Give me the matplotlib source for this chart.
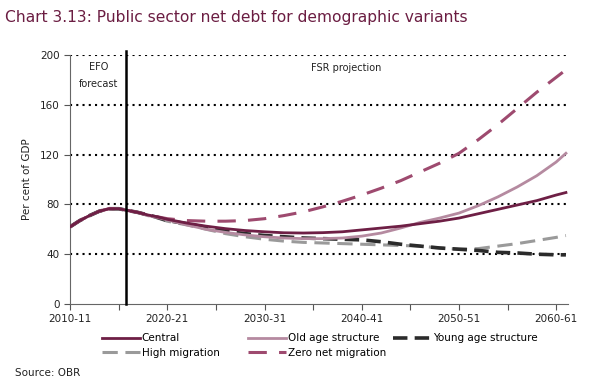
import numpy as np
import matplotlib.pyplot as plt

# years since 2010-11
years = [0, 1, 2, 3, 4, 5, 6, 7, 8, 9, 10, 12, 14, 16, 18, 20, 22, 24, 26, 28,
         30, 32, 34, 36, 38, 40, 42, 44, 46, 48, 50, 51]

central = [62, 67, 71, 74.5, 76.5, 76.5, 75, 73.5, 71.5, 70, 68, 65, 62.5, 60.5, 59, 58,
           57.2, 57, 57.3, 58, 59.5, 61, 62.5, 64.5, 66.5, 69, 72.5, 76, 79.5, 83, 87.5, 89.5]
old_age = [62, 67, 71, 74.5, 76.5, 76.5, 75, 73.5, 71, 69.5, 67.5, 63.5, 60, 57.5, 55.5, 54,
           53, 52.5, 52.5, 53, 54.5, 57, 61, 65.5, 69, 73, 79, 86, 94, 103, 114, 121]
young_age = [62, 67, 71, 74.5, 76.5, 76.5, 75, 73.5, 71.5, 69.5, 67, 64.5, 61.5, 58.5, 56.5, 55,
             54, 53, 52.5, 52, 51.5, 50, 48, 46.5, 45, 44, 43, 41.5, 41, 40, 39.5, 39.5]
high_mig = [62, 67, 71, 74.5, 76.5, 76.5, 75, 73.5, 71, 69, 66.5, 63.5, 60, 56.5, 54, 52,
            50.5, 49.5, 49, 48.5, 48, 47.5, 47, 46.5, 45, 44, 44.5, 46.5, 48.5, 51, 53.5, 55]
zero_mig = [62, 67, 71, 74.5, 76.5, 76.5, 75, 73.5, 71.5, 70, 68.5, 67, 66.5, 66.5, 67, 68.5,
            71, 74, 78, 82.5, 87.5, 93, 99, 106, 113, 121, 132, 144, 157, 170, 182, 188]

tick_labels = ['2010-11', '2020-21', '2030-31', '2040-41', '2050-51', '2060-61']

maroon = '#6b1d42'

fig = plt.figure(figsize=(5.94, 3.81), dpi=100)
ax = fig.add_axes([0.118, 0.202, 0.838, 0.654])

for y in range(40, 201, 40):
    ax.axhline(y, color='black', lw=1.5, ls=(0, (1, 2)), zorder=1)

l_central, = ax.plot(years, central, color='#6e1f45', lw=2, zorder=5)
l_high, = ax.plot(years, high_mig, color='#9a9a9a', lw=2.2, ls=(0, (5, 2.5)), zorder=3)
l_old, = ax.plot(years, old_age, color='#b58aa0', lw=2, zorder=4)
l_zero, = ax.plot(years, zero_mig, color='#9e4a6f', lw=2.2, ls=(0, (6, 4)), zorder=4)
l_young, = ax.plot(years, young_age, color='#2b2b2b', lw=2.6, ls=(0, (4, 2)), zorder=3)

ax.axvline(5.8, ymin=0, ymax=1.015, color='black', lw=1.8, clip_on=False, zorder=6)

ax.set_xlim(0, 51.2)
ax.set_ylim(0, 200)
ax.set_yticks(range(0, 201, 40))
ax.set_xticks(range(0, 51, 10))
ax.set_xticklabels(tick_labels)
ax.set_xticks(range(5, 51, 10), minor=True)
ax.tick_params(axis='both', which='both', direction='out', length=4, width=0.8,
               colors='#555555', labelcolor='#222222', labelsize=7.5)
for s in ['top', 'right']:
    ax.spines[s].set_visible(False)
for s in ['left', 'bottom']:
    ax.spines[s].set_color('#666666')
    ax.spines[s].set_linewidth(0.8)

ax.set_ylabel('Per cent of GDP', fontsize=7.5, color='#222222', labelpad=6)

ax.text(2.9, 190, 'EFO', ha='center', va='center', fontsize=7, color='#222222')
ax.text(2.9, 177, 'forecast', ha='center', va='center', fontsize=7, color='#222222')
ax.text(28.4, 189.5, 'FSR projection', ha='center', va='center', fontsize=7, color='#222222')

fig.text(0.008, 0.955, 'Chart 3.13: Public sector net debt for demographic variants',
         fontsize=11.2, color=maroon, va='center')
fig.text(0.025, 0.022, 'Source: OBR', fontsize=7.5, color='#222222', va='center')

# legend laid out as three fixed-width columns
columns = [([l_central, l_high], ['Central', 'High migration'], 0.172),
           ([l_old, l_zero], ['Old age structure', 'Zero net migration'], 0.418),
           ([l_young], ['Young age structure'], 0.662)]
for handles, labels, x0 in columns:
    fig.legend(handles, labels, loc='upper left', bbox_to_anchor=(x0, 0.125),
               frameon=False, fontsize=7.5, handlelength=3.6, handletextpad=0.2,
               labelspacing=0.45, borderpad=0, borderaxespad=0)

fig.savefig('out.png', dpi=100)
